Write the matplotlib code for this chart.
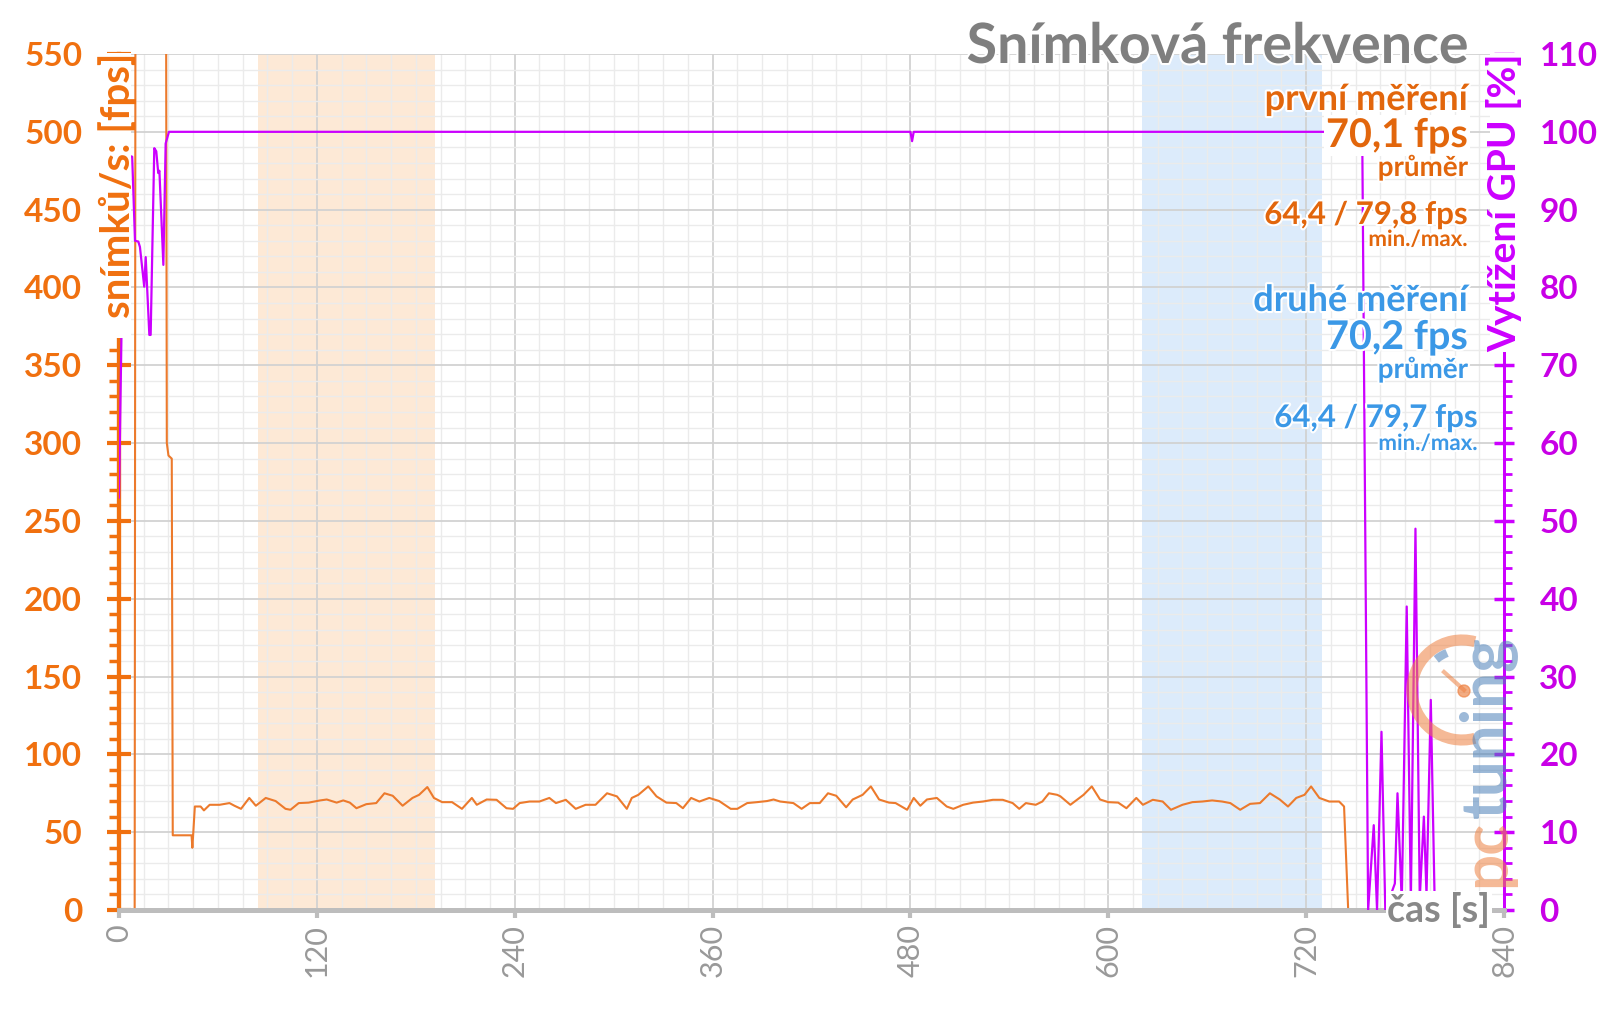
# Snímková frekvence - fps a vytížení GPU v čase

import matplotlib
matplotlib.use('Agg')
import matplotlib.pyplot as plt
import matplotlib.patheffects as pe
from matplotlib.patches import Arc, Circle, Rectangle
from matplotlib.lines import Line2D
from matplotlib.ticker import MultipleLocator

plt.rcParams['font.family'] = ['Lato', 'DejaVu Sans']

# data - snímková frekvence (levá osa)
fps_t = [0, 9.5, 10, 28.5, 29, 30, 32, 32.6, 44, 44.5, 46,
         49.5, 51.5, 55, 61, 67, 70, 74, 79, 83, 89, 95, 101, 104, 109, 115,
         122, 126, 132, 136, 140, 144, 150, 156, 161, 166, 172, 178, 182, 187,
         191, 196, 202, 208, 214, 217, 223, 229, 235, 239, 243, 249, 255, 261,
         265, 271, 277, 283, 289, 296, 302, 308, 311, 315, 321, 326, 332, 338,
         342, 347, 352, 358, 364, 371, 375, 381, 387, 393, 397, 401, 409, 414,
         419, 425, 430, 435, 441, 445, 451, 456, 461, 467, 471, 478, 482, 486,
         490, 496, 502, 506, 512, 518, 524, 530, 536, 542, 546, 550, 556, 560,
         564, 569, 571, 577, 581, 585, 590, 595, 600, 606, 611, 617, 621, 627,
         633, 638, 645, 651, 657, 663, 669, 674, 680, 686, 692, 698, 704, 709,
         714, 719, 723, 728, 734, 740, 743, 745.5, 757]
fps_v = [0, 0, 620, 620, 300, 292, 290, 48, 48, 40, 66.5,
         66.5, 64, 67.6, 67.6, 68.7, 67, 65, 72, 67, 72, 70, 65, 64.4, 68.7, 69,
         70.4, 71, 69, 70.4, 69, 65.4, 68, 68.7, 75, 73.4, 67, 72, 74, 79,
         72, 69.3, 69.3, 65, 72, 67.6, 71, 70.8, 65.4, 65, 68.7, 69.7, 69.7, 72,
         68.7, 70.8, 65, 67.6, 67.6, 75, 73, 65, 72, 74, 79.4, 73, 69, 68.7,
         65.4, 72, 69.7, 72, 70, 65, 65, 68.7, 69.3, 70, 71, 69.7, 68.7, 65,
         68.7, 68.7, 75, 73.4, 66, 71, 74, 79.4, 71, 69, 68.7, 64.4, 72, 67,
         71, 72, 66.5, 65, 67.6, 69, 69.7, 70.8, 70.8, 68.7, 65, 68.7, 67.6, 69.7,
         75, 74, 73, 67.6, 70.8, 74, 79.4, 71, 69.3, 69, 65.4, 72, 67.6, 70.8,
         69.7, 64.4, 67.6, 69.3, 69.7, 70.4, 69.7, 68.7, 64.4, 68.2, 68.7, 75, 71, 66.5,
         72, 74, 79.4, 72, 69.7, 69.7, 66.5, 0, 0]

# data - vytížení GPU (pravá osa)
gpu_t = [0, 1.5, 5, 8, 9.7, 11.7, 12.7, 15.3, 16.2, 18.4, 19.2, 21.4, 22.6,
         23.8, 24.5, 26.9, 28.3, 30.3, 480, 481, 482, 754, 757.6,
         761, 763, 765.7, 768, 773.8, 775.4, 778, 781, 783.5, 786.3, 788.9,
         791.4, 793, 795.6, 798]
gpu_v = [53, 74, 97, 96.8, 86, 85.9, 85.2, 80.1, 83.9, 73.9, 73.9, 97.9, 97.5,
         94.7, 95, 82.9, 98.5, 100, 100, 98.8, 100, 100, 0,
         10.9, 0, 22.9, 0, 3.4, 15, 1, 39, 1, 49, 1.5,
         12, 2, 27, 0.4]

# oblasti měření
first_span = (84.5, 191.5)
second_span = (620.5, 729.5)

x_ticks = [0, 120, 240, 360, 480, 600, 720, 840]

orange = '#f0700f'
orange_txt = '#e2660c'
blue_txt = '#3b98e6'
magenta = '#cc00ff'
logo_orange = '#ee8040'
logo_blue = '#4a7fb8'

H = 1009   # výška obrázku v px (pro umístění v pixelech)

fig = plt.figure(figsize=(16, 10.09), dpi=100)
ax = fig.add_axes([119/1600, 1-910/H, (1504-119)/1600, (910-54)/H])
ax2 = ax.twinx()

# podbarvení měřených úseků
ax.axvspan(*first_span, color='#fde9d6', zorder=0, lw=0)
ax.axvspan(*second_span, color='#dcebfb', zorder=0, lw=0)

# mřížka
ax.xaxis.set_minor_locator(MultipleLocator(15))
ax.yaxis.set_minor_locator(MultipleLocator(10))
ax.grid(which='major', color='#d2d2d2', lw=1.3, zorder=0.5)
ax.grid(which='minor', color='#ebebeb', lw=1.0, zorder=0.5)
ax.set_axisbelow(True)

# fps
ax.plot(fps_t, fps_v, color='#ec7a2c', lw=1.5, zorder=3)
ax.set_xlim(0, 840)
ax.set_ylim(0, 550)
ax.set_xticks(x_ticks)
ax.set_yticks(range(0, 551, 50))

# gpu
ax2.plot(gpu_t, gpu_v, color=magenta, lw=1.6, zorder=3)
ax2.set_ylim(0, 110)
ax2.set_yticks(range(0, 111, 10))
ax2.yaxis.set_minor_locator(MultipleLocator(2))

# osy
for a in (ax, ax2):
    a.spines['top'].set_visible(False)
    a.spines['bottom'].set_color('#bdbdbd')
    a.spines['bottom'].set_linewidth(3.5)
    a.spines['left'].set_color(orange)
    a.spines['left'].set_linewidth(3)
    a.spines['right'].set_color(magenta)
    a.spines['right'].set_linewidth(2)

ax.tick_params(axis='y', which='major', direction='inout', length=17, width=3,
               color=orange, labelcolor=orange, labelsize=24, pad=18)
ax.tick_params(axis='y', which='minor', direction='out', length=7, width=2.5, color=orange)
ax.tick_params(axis='x', which='major', direction='out', length=6, width=3,
               color='#bdbdbd', labelcolor='#999999', labelsize=22, labelrotation=90, pad=4)
ax.tick_params(axis='x', which='minor', length=0)
ax2.tick_params(axis='y', which='major', direction='inout', length=15, width=2.5,
                color=magenta, labelcolor='#c800e6', labelsize=24, pad=18)
ax2.tick_params(axis='y', which='minor', direction='out', length=6, width=2, color=magenta)
for lbl in ax.get_yticklabels() + ax2.get_yticklabels():
    lbl.set_fontweight('bold')

# popisky os (bílé pozadí přes osu)
fig.add_artist(Rectangle((104, H-338), 27, 285, facecolor='white', edgecolor='none',
                         transform=None, zorder=9))
fig.text(118/1600, 1-53/H, 'snímků/s: [fps]', rotation=90,
         ha='center', va='top', fontsize=29, fontweight='bold', color=orange, zorder=10)
fig.add_artist(Rectangle((1490, H-352), 29, 299, facecolor='white', edgecolor='none',
                         transform=None, zorder=9))
fig.text(1504/1600, 1-53/H, 'Vytížení GPU [%]', rotation=90,
         ha='center', va='top', fontsize=28, fontweight='bold', color=magenta, zorder=10)
fig.text(1490/1600, 1-910/H, 'čas [s]', ha='right', va='center',
         fontsize=27, fontweight='bold', color='#888888',
         bbox=dict(facecolor='white', edgecolor='none', pad=1), zorder=10)

# logo pctuning (přibližně)
fig.text(1487/1600, 1-818/H, 'tuning', rotation=90, ha='center', va='bottom',
         fontsize=46, fontweight='bold', color=logo_blue, alpha=0.55, zorder=5)
fig.text(1487/1600, 1-820/H, 'pc', rotation=90, ha='center', va='top',
         fontsize=46, fontweight='bold', color=logo_orange, alpha=0.55, zorder=5)
fig.add_artist(Arc((1462, H-690), 100, 100, theta1=75, theta2=285, lw=8,
                   color=logo_orange, alpha=0.55, transform=None, zorder=5))
fig.add_artist(Arc((1462, H-690), 80, 80, theta1=112, theta2=130, lw=6,
                   color=logo_blue, alpha=0.55, transform=None, zorder=5))
fig.add_artist(Line2D([1444, 1464], [H-672, H-690], color=logo_orange, lw=3,
                      alpha=0.55, transform=None, zorder=5))
fig.add_artist(Circle((1464, H-691), 6, color=logo_orange, alpha=0.65,
                      transform=None, zorder=5))

# titulek a hodnoty
halo = [pe.withStroke(linewidth=3, foreground='white')]
def ftext(x, y, s, size, color, **kw):
    fig.text(x/1600, 1-y/H, s, ha='right', va='baseline', fontsize=size,
             fontweight='bold', color=color, path_effects=halo, zorder=6, **kw)

ftext(1468, 63, 'Snímková frekvence', 40, '#7f7f7f')
ftext(1468, 110, 'první měření', 26, orange_txt)
ftext(1468, 147, '70,1 fps', 28.5, orange_txt,
      bbox=dict(facecolor='white', edgecolor='none', pad=1))
ftext(1468, 176, 'průměr', 20, orange_txt)
ftext(1468, 224, '64,4 / 79,8 fps', 22.5, orange_txt)
ftext(1468, 246, 'min./max.', 16, orange_txt)
ftext(1468, 311, 'druhé měření', 26, blue_txt)
ftext(1468, 349, '70,2 fps', 28.5, blue_txt)
ftext(1468, 378, 'průměr', 20, blue_txt)
ftext(1478, 427, '64,4 / 79,7 fps', 22.5, blue_txt)
ftext(1478, 450, 'min./max.', 16, blue_txt)

fig.savefig('out.png', dpi=100)
